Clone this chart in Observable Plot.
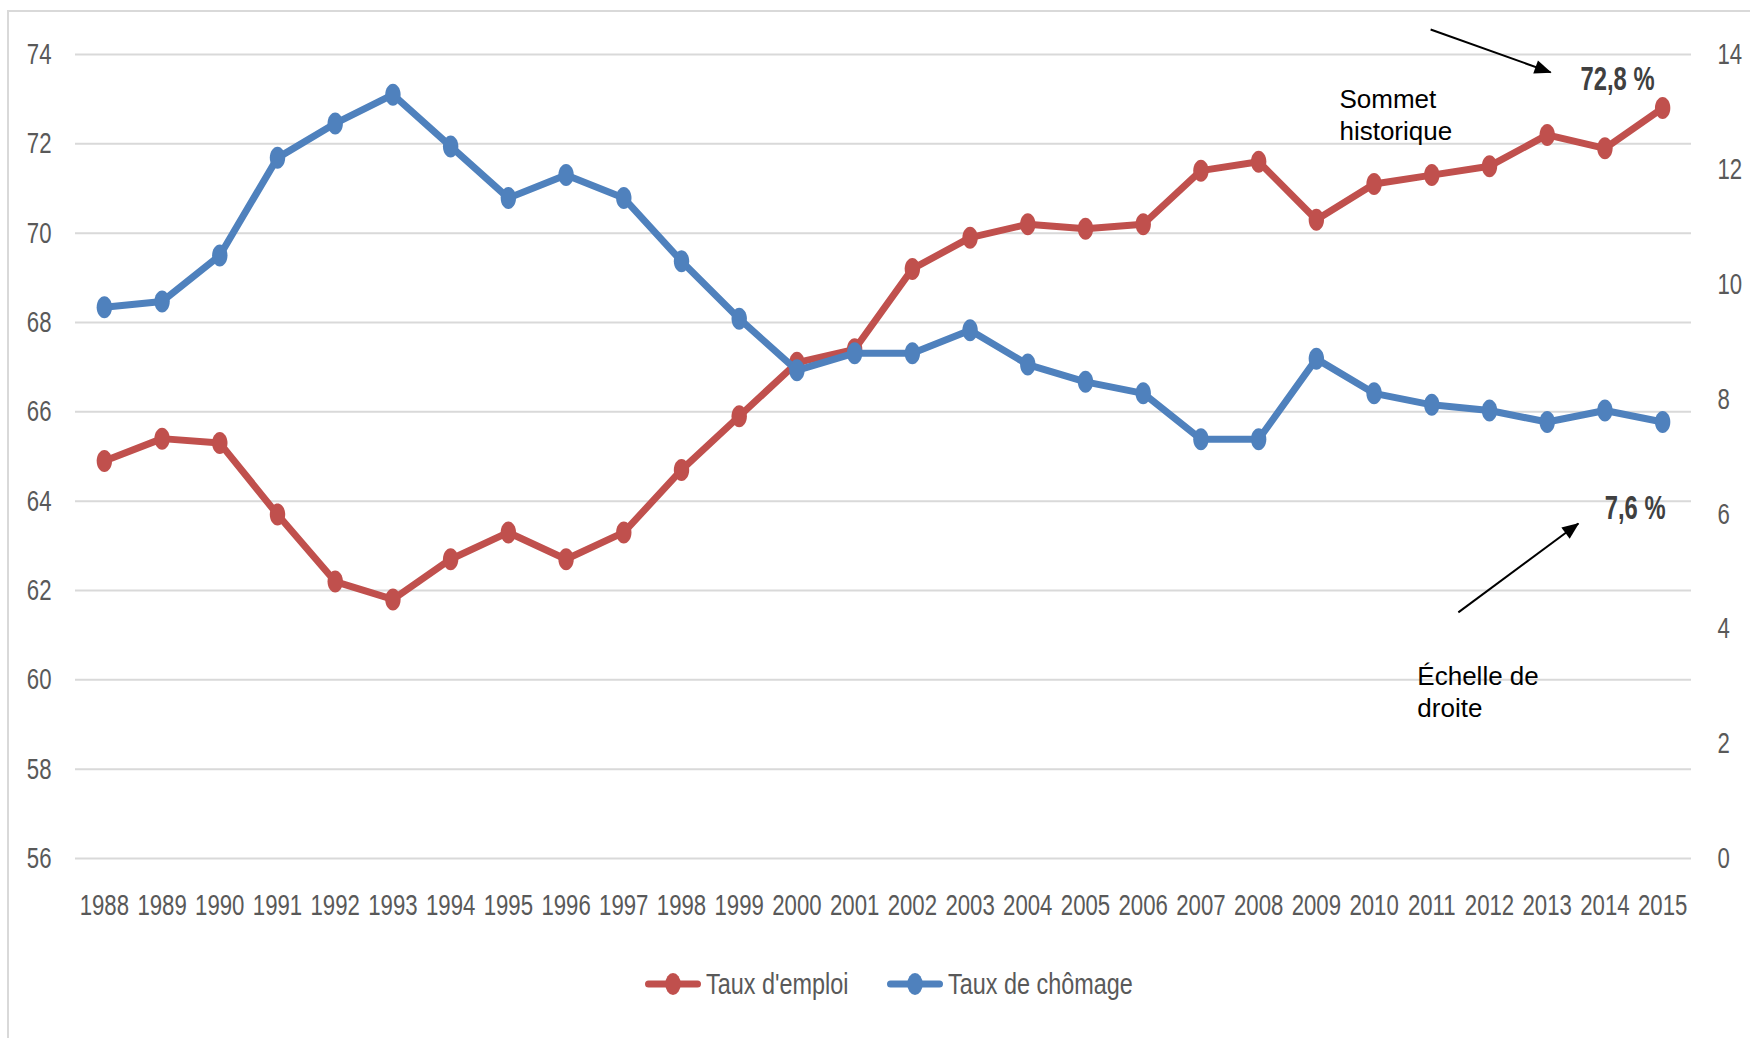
<!DOCTYPE html>
<html>
<head>
<meta charset="utf-8">
<script src="https://cdn.jsdelivr.net/npm/d3@7"></script>
<script src="https://cdn.jsdelivr.net/npm/@observablehq/plot@0.6"></script>
<style>
  body { margin: 0; background: #fff; width: 1750px; height: 1038px; overflow: hidden; position: relative;
         font-family: "Liberation Sans", Arial, sans-serif; }
  #chart { position: absolute; left: 0; top: 0; }
  #frame { position: absolute; left: 7px; top: 10px; width: 1800px; height: 1100px;
           border-left: 2px solid #d9d9d9; border-top: 2px solid #d9d9d9; pointer-events: none; }
  #legend { position: absolute; left: 0; top: 962px; width: 1750px; height: 44px; }
  .item { position: absolute; top: 0; height: 44px; display: flex; align-items: center;
          font-size: 30px; color: #595959; white-space: nowrap; }
  .item svg { margin-right: 5px; overflow: visible; flex: none; }
  .item span { display: inline-block; transform: scaleX(0.78); transform-origin: left center; }
</style>
</head>
<body>
<div id="chart"></div>
<div id="legend"></div>
<div id="frame"></div>
<script>
// ---- data ----
const years = [1988, 1989, 1990, 1991, 1992, 1993, 1994, 1995, 1996, 1997, 1998, 1999, 2000, 2001,
               2002, 2003, 2004, 2005, 2006, 2007, 2008, 2009, 2010, 2011, 2012, 2013, 2014, 2015];
const tauxEmploi = [64.9, 65.4, 65.3, 63.7, 62.2, 61.8, 62.7, 63.3, 62.7, 63.3, 64.7, 65.9, 67.1, 67.4,
                    69.2, 69.9, 70.2, 70.1, 70.2, 71.4, 71.6, 70.3, 71.1, 71.3, 71.5, 72.2, 71.9, 72.8];
const tauxChomage = [9.6, 9.7, 10.5, 12.2, 12.8, 13.3, 12.4, 11.5, 11.9, 11.5, 10.4, 9.4, 8.5, 8.8,
                     8.8, 9.2, 8.6, 8.3, 8.1, 7.3, 7.3, 8.7, 8.1, 7.9, 7.8, 7.6, 7.8, 7.6];
const seriesNames = ["Taux d'emploi", "Taux de chômage"];
const seriesColors = ["#C0504D", "#4F81BD"];
const leftTicks = [56, 58, 60, 62, 64, 66, 68, 70, 72, 74];
const rightTicks = [0, 2, 4, 6, 8, 10, 12, 14];

// annotations (data space: year, left-axis value)
const noteText = ["Sommet\nhistorique", "Échelle de\ndroite"];
const noteX = [2009.4, 2010.75];
const noteY = [73.31, 60.38];
const valueText = ["72,8 %", "7,6 %"];
const valueX = [2014.86, 2015.05];
const valueY = [73.44, 63.84];
const arrowX1 = [2010.98, 2011.46];
const arrowY1 = [74.56, 61.51];
const arrowX2 = [2013.06, 2013.54];
const arrowY2 = [73.60, 63.50];

// ---- layout ----
const W = 1750, H = 945;
const mL = 75, mR = 59, mT = 54, mB = 87;
const xDomain = [1987.5, 2015.5];
const yDomain = [56, 74];
const rDomain = [0, 14];
const pxPerYear = (W - mL - mR) / (xDomain[1] - xDomain[0]);
const pxPerUnit = (H - mT - mB) / (yDomain[1] - yDomain[0]);

// right-scale -> left-scale mapping
const toLeft = u => yDomain[0] + (u - rDomain[0]) * (yDomain[1] - yDomain[0]) / (rDomain[1] - rDomain[0]);
const fromLeft = v => rDomain[0] + (v - yDomain[0]) * (rDomain[1] - rDomain[0]) / (yDomain[1] - yDomain[0]);

const emploiData = years.map((y, i) => ({year: y, value: tauxEmploi[i]}));
const chomageData = years.map((y, i) => ({year: y, value: toLeft(tauxChomage[i])}));

const notes = noteText.map((t, i) => ({t, x: noteX[i], y: noteY[i]}));
const values = valueText.map((t, i) => ({t, x: valueX[i], y: valueY[i]}));
const arrows = arrowX1.map((x1, i) => {
  const dx = (arrowX2[i] - x1) * pxPerYear;
  const dy = -(arrowY2[i] - arrowY1[i]) * pxPerUnit;
  return {x1, y1: arrowY1[i], x2: arrowX2[i], y2: arrowY2[i], angle: Math.atan2(dy, dx) * 180 / Math.PI};
});

// ellipse marker symbol
const K = 0.5523;
const ellipse = {
  draw(ctx, size) {
    const ry = Math.sqrt(size / Math.PI), rx = ry * 0.7;
    ctx.moveTo(rx, 0);
    ctx.bezierCurveTo(rx, K * ry, K * rx, ry, 0, ry);
    ctx.bezierCurveTo(-K * rx, ry, -rx, K * ry, -rx, 0);
    ctx.bezierCurveTo(-rx, -K * ry, -K * rx, -ry, 0, -ry);
    ctx.bezierCurveTo(K * rx, -ry, rx, -K * ry, rx, 0);
    ctx.closePath();
  }
};
// arrowhead symbol, tip at origin pointing +x
const arrowHead = {
  draw(ctx) {
    ctx.moveTo(1, 0);
    ctx.lineTo(-16, -7);
    ctx.lineTo(-16, 7);
    ctx.closePath();
  }
};

const tickFont = 30;

const chart = Plot.plot({
  width: W, height: H,
  marginLeft: mL, marginRight: mR, marginTop: mT, marginBottom: mB,
  x: {domain: xDomain},
  y: {domain: yDomain},
  style: {fontFamily: '"Liberation Sans", Arial, sans-serif', color: "#595959", background: "transparent"},
  marks: [
    Plot.gridY(leftTicks, {stroke: "#d9d9d9", strokeOpacity: 1, strokeWidth: 2}),
    Plot.axisY({ticks: leftTicks, tickSize: 0, tickPadding: 24, fontSize: tickFont, label: null, tickFormat: d => String(d)}),
    Plot.axisY({anchor: "right", ticks: rightTicks.map(toLeft), tickSize: 0, tickPadding: 26, fontSize: tickFont, label: null,
                tickFormat: v => String(Math.round(fromLeft(v)))}),
    Plot.axisX({ticks: years, tickSize: 0, tickPadding: 35, fontSize: tickFont, label: null, tickFormat: d => String(d)}),
    Plot.line(emploiData, {x: "year", y: "value", stroke: seriesColors[0], strokeWidth: 7}),
    Plot.dot(emploiData, {x: "year", y: "value", fill: seriesColors[0], stroke: "none", r: 11, symbol: ellipse}),
    Plot.line(chomageData, {x: "year", y: "value", stroke: seriesColors[1], strokeWidth: 7}),
    Plot.dot(chomageData, {x: "year", y: "value", fill: seriesColors[1], stroke: "none", r: 11, symbol: ellipse}),
    Plot.link(arrows, {x1: "x1", y1: "y1", x2: "x2", y2: "y2", stroke: "black", strokeWidth: 2}),
    Plot.dot(arrows, {x: "x2", y: "y2", rotate: "angle", symbol: arrowHead, fill: "black", stroke: "none"}),
    Plot.text(notes, {x: "x", y: "y", text: "t", textAnchor: "start", lineAnchor: "top", lineHeight: 1.22,
                      fontSize: 26, fill: "black"}),
    Plot.text(values, {x: "x", y: "y", text: "t", textAnchor: "end", lineAnchor: "middle",
                       fontSize: 33, fontWeight: "bold", fill: "#404040"})
  ]
});
document.getElementById("chart").append(chart);

// condense texts horizontally (about their anchor point) to mimic the narrow face of the original
function condense(texts, factor) {
  texts.forEach(t => {
    const tr = t.getAttribute("transform") || "";
    t.setAttribute("transform", (tr + ` scale(${factor},1)`).trim());
  });
}
const allTexts = Array.from(chart.querySelectorAll("text"));
condense(Array.from(chart.querySelectorAll('g[aria-label$="tick label"] text')), 0.74);
condense(allTexts.filter(t => valueText.includes(t.textContent)), 0.72);

// legend
const legendLeft = [645, 887];
const legend = document.getElementById("legend");
seriesNames.forEach((name, i) => {
  const item = document.createElement("div");
  item.className = "item";
  item.style.left = legendLeft[i] + "px";
  item.innerHTML = `<svg width="56" height="24" viewBox="0 0 56 24">
      <line x1="3.5" y1="12" x2="52.5" y2="12" stroke="${seriesColors[i]}" stroke-width="7" stroke-linecap="round"/>
      <ellipse cx="28" cy="12" rx="7.7" ry="11" fill="${seriesColors[i]}"/></svg><span>${name}</span>`;
  legend.append(item);
});
</script>
</body>
</html>
